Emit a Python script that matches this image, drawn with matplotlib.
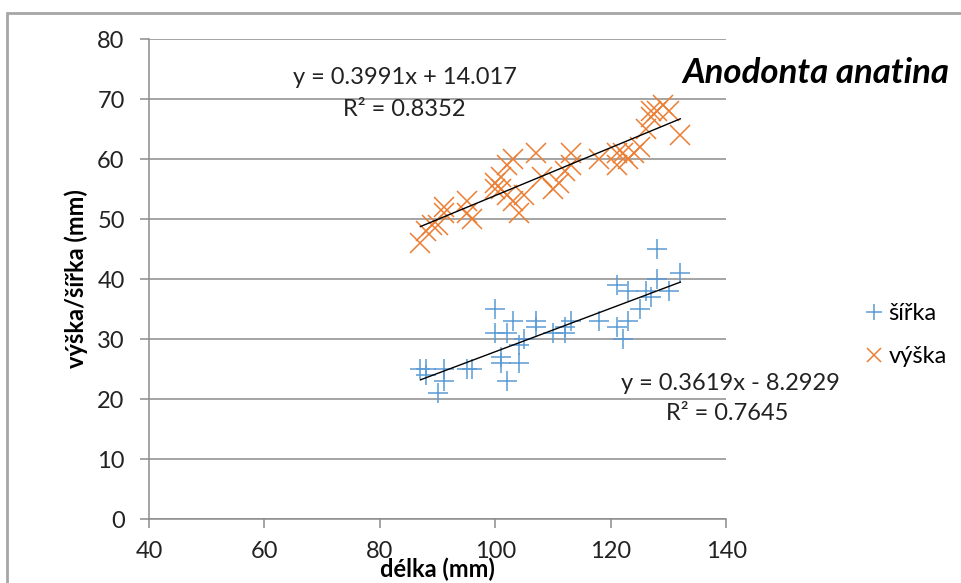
import numpy as np
import matplotlib
matplotlib.use("Agg")
import matplotlib.pyplot as plt
from matplotlib.patches import Rectangle

plt.rcParams['font.family'] = ['Lato', 'DejaVu Sans']

# šířka (width) vs délka (length), mm
sirka_x = [87, 88, 88, 90, 91, 91, 95, 96, 100, 100, 101, 101, 102, 102, 103, 104, 104, 105, 107, 107,
           110, 112, 112, 113, 118, 121, 121, 122, 123, 123, 125, 126, 127, 128, 128, 130, 132]
sirka_y = [25, 25, 24, 21, 23, 25, 25, 25, 35, 31, 27, 26, 23, 31, 33, 26, 29, 30, 33, 32,
           31, 32, 31, 33, 33, 39, 32, 30, 33, 38, 35, 38, 37, 45, 40, 38, 41]

# výška (height) vs délka (length), mm
vyska_x = [87, 88, 89, 90, 91, 91, 95, 95, 96, 100, 100, 101, 101, 102, 102, 103, 103, 104, 105, 107,
           108, 110, 111, 112, 113, 113, 118, 121, 121, 122, 123, 124, 125, 126, 127, 127, 128, 129, 130, 132]
vyska_y = [46, 48, 49, 49, 51, 52, 53, 51, 50, 55, 56, 57, 55, 59, 54, 60, 53, 51, 54, 61,
           57, 55, 56, 58, 59, 61, 60, 59, 61, 61, 60, 61, 62, 65, 68, 67, 68, 69, 68, 64]

# trendline coefficients as printed on the chart
fit_sirka = (0.3619, -8.2929, 0.7645)
fit_vyska = (0.3991, 14.017, 0.8352)

W, H = 962, 583
fig = plt.figure(figsize=(W / 100, H / 100), dpi=100)

def fx(px):
    return px / W

def fy(py):
    return 1 - py / H

ax = fig.add_axes([fx(149), fy(519), fx(726.5) - fx(149), fy(39) - fy(519)])

blue = '#5B9BD5'
orange = '#ED7D31'
grid_c = '#8C8C8C'
txt_c = '#222222'

ax.plot(sirka_x, sirka_y, '+', color=blue, markersize=15, markeredgewidth=1.1, label='šířka', zorder=3)
ax.plot(vyska_x, vyska_y, 'x', color=orange, markersize=14, markeredgewidth=1.1, label='výška', zorder=3)

for xs, (k, q, r2) in [(sirka_x, fit_sirka), (vyska_x, fit_vyska)]:
    xx = np.array([min(xs), max(xs)])
    ax.plot(xx, k * xx + q, color='black', lw=1.0, zorder=4)

ax.set_xlim(40, 140)
ax.set_ylim(0, 80)
ax.set_xticks(np.arange(40, 141, 20))
ax.set_yticks(np.arange(0, 81, 10))
ax.yaxis.grid(True, color=grid_c, lw=1.1)
ax.set_axisbelow(True)
for s in ['top', 'right']:
    ax.spines[s].set_visible(False)
for s in ['left', 'bottom']:
    ax.spines[s].set_color(grid_c)
    ax.spines[s].set_linewidth(1.1)
ax.tick_params(axis='both', direction='out', length=6.5, width=1.1, color=grid_c,
               labelsize=17, labelcolor=txt_c)
ax.tick_params(axis='y', pad=11)
ax.tick_params(axis='x', pad=9)

fig.text(fx(437), fy(569), 'délka (mm)', ha='center', va='center', fontsize=17, fontweight='bold')
fig.text(fx(76), fy(279), 'výška/šířka (mm)', ha='center', va='center', rotation=90,
         fontsize=17, fontweight='bold')

fig.text(fx(816), fy(73), 'Anodonta anatina', ha='center', va='center', fontsize=25,
         fontweight='bold', style='italic')

k, q, r2 = fit_vyska
fig.text(fx(405), fy(78), f'y = {k}x + {q}', ha='center', va='center', fontsize=17, color=txt_c)
fig.text(fx(404), fy(110), f'R² = {r2}', ha='center', va='center', fontsize=17, color=txt_c)
k, q, r2 = fit_sirka
fig.text(fx(730), fy(384), f'y = {k}x - {abs(q)}', ha='center', va='center', fontsize=17, color=txt_c)
fig.text(fx(727), fy(413), f'R² = {r2}', ha='center', va='center', fontsize=17, color=txt_c)

fig.legend(loc='center left', bbox_to_anchor=(fx(853), fy(335)), frameon=False, fontsize=17,
           handlelength=0.8, handletextpad=0.2, labelspacing=0.95, borderpad=0, markerscale=0.75)

# outer chart frame
fig.patches.append(Rectangle((fx(7), fy(H + 20)), 2, fy(13) - fy(H + 20), transform=fig.transFigure,
                             fill=False, edgecolor='#A6A6A6', lw=2))

fig.savefig('out.png', dpi=100)
